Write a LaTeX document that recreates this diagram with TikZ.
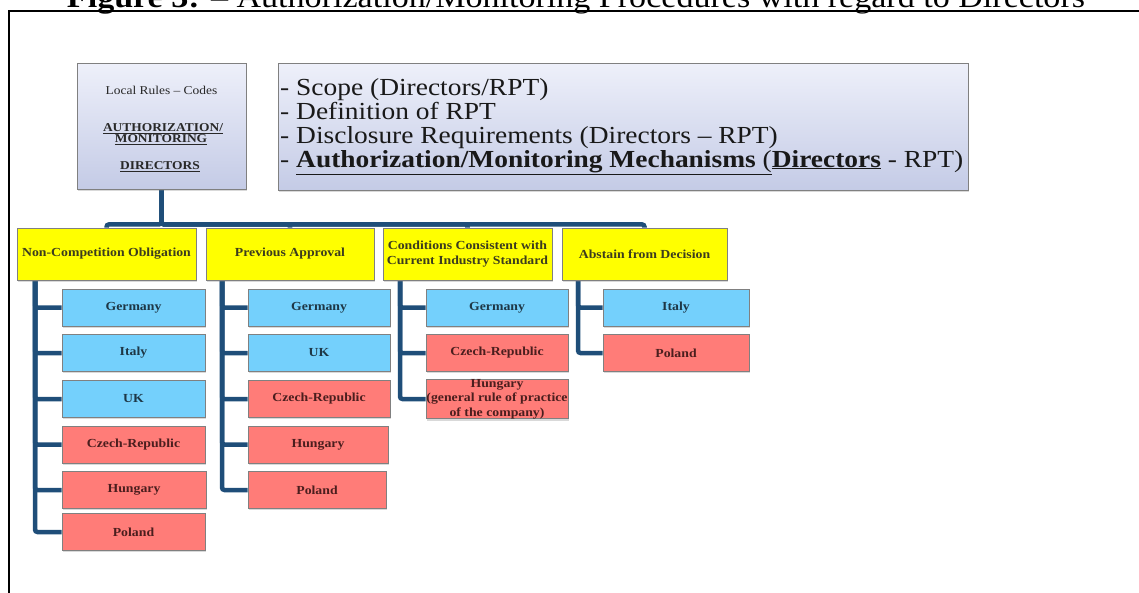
\documentclass[tikz,border=0pt]{standalone}
\usepackage{graphicx}
\usepackage{fontspec}
\setmainfont{Liberation Serif}[FakeStretch=1.12]
\usetikzlibrary{shadows,backgrounds}
\definecolor{connc}{RGB}{31,78,121}
\definecolor{ybox}{RGB}{255,255,0}
\definecolor{bbox}{RGB}{116,208,252}
\definecolor{rbox}{RGB}{255,124,120}
\definecolor{btxt}{RGB}{30,55,70}
\definecolor{rtxt}{RGB}{75,30,30}
\definecolor{ytxt}{RGB}{60,60,30}
\definecolor{gtop}{RGB}{238,240,250}
\definecolor{gbot}{RGB}{196,203,230}
\definecolor{bordc}{RGB}{128,128,128}
\definecolor{darktxt}{RGB}{40,40,40}
\tikzset{
  box/.style={draw=bordc, line width=0.8pt, inner sep=1pt,
    drop shadow={shadow xshift=1.2pt, shadow yshift=-1.8pt, opacity=0.3}},
  topbox/.style={box, top color=gtop, bottom color=gbot},
  cat/.style={box, fill=ybox, minimum height=52pt, text=ytxt, align=center,
    font=\fontsize{12.3}{14.5}\selectfont\bfseries},
  cbox/.style={box, minimum height=37pt, align=center,
    font=\fontsize{12.3}{14.5}\selectfont\bfseries},
  bluebox/.style={cbox, fill=bbox, text=btxt},
  redbox/.style={cbox, fill=rbox, text=rtxt},
  conn/.style={draw=connc, line width=4.5pt, rounded corners=2.5pt},
  lrctext/.style={anchor=base, inner sep=0, text=darktxt, font=\fontsize{12}{12}\selectfont\bfseries},
  sctext/.style={anchor=base west, inner sep=0, text=black!90, font=\fontsize{24.5}{25}\selectfont}
}
\begin{document}
\begin{tikzpicture}[x=1pt,y=-1pt]
\useasboundingbox (0,0) rectangle (1139,592);
\begin{scope}
  \clip (0,0) rectangle (1139,592);
  \node[anchor=base, inner sep=0, font=\fontsize{30}{32}\selectfont] (title) at (576,7)
    {\resizebox{1018pt}{!}{\textbf{Figure 3:} – Authorization/Monitoring Procedures with regard to Directors}};
  \draw[line width=2pt] (9,620) -- (9,11) -- (1160,11);
\end{scope}

% top boxes
\node[topbox, minimum width=169pt, minimum height=126pt] (lrc) at (161.5,126) {};
\node[lrctext, font=\fontsize{12}{12}\selectfont] (l1) at (161.5,94) {Local Rules – Codes};
\node[lrctext] (l2) at (163,131.7) {\underline{AUTHORIZATION/}};
\node[lrctext] (l3) at (161,142.3) {\underline{MONITORING}};
\node[lrctext] (l4) at (160,169.3) {\underline{DIRECTORS}};

\node[topbox, minimum width=690pt, minimum height=127pt] (scb) at (623,126.5) {};
\node[sctext] (s1) at (280,95) {- Scope (Directors/RPT)};
\node[sctext] (s2) at (280,119) {- Definition of RPT};
\node[sctext] (s3) at (280,143) {- Disclosure Requirements (Directors – RPT)};
\node[sctext] (s4) at (280,167) {- \underline{\textbf{Authorization/Monitoring Mechanisms} (}\underline{\textbf{Directors}} - RPT)};

% categories
\node[cat, minimum width=179pt] (ncO) at (106.5,254) {Non-Competition Obligation};
\node[cat, minimum width=168pt] (pA) at (290,254) {Previous Approval};
\node[cat, minimum width=169pt] (ccs) at (467.5,254) {Conditions Consistent with\\Current Industry Standard};
\node[cat, minimum width=165pt] (afd) at (644.5,254) {Abstain from Decision};

% column 1
\node[bluebox, minimum width=143pt] (a1) at (133.5,307.5) {Germany};
\node[bluebox, minimum width=143pt] (a2) at (133.5,353) {Italy};
\node[bluebox, minimum width=143pt] (a3) at (133.5,399) {UK};
\node[redbox, minimum width=143pt] (a4) at (133.5,444.5) {Czech-Republic};
\node[redbox, minimum width=144pt] (a5) at (134,490) {Hungary};
\node[redbox, minimum width=143pt] (a6) at (133.5,532) {Poland};

% column 2
\node[bluebox, minimum width=142pt] (b1) at (319,307.5) {Germany};
\node[bluebox, minimum width=142pt] (b2) at (319,353) {UK};
\node[redbox, minimum width=142pt] (b3) at (319,399) {Czech-Republic};
\node[redbox, minimum width=140pt] (b4) at (318,444.5) {Hungary};
\node[redbox, minimum width=138pt] (b5) at (317,490) {Poland};

% column 3
\node[bluebox, minimum width=142pt] (c1) at (497,307.5) {Germany};
\node[redbox, minimum width=142pt] (c2) at (497,353) {Czech-Republic};
\node[redbox, minimum width=142pt, inner sep=0pt] (c3) at (497,399) {Hungary\\(general rule of practice\\of the company)};

% column 4
\node[bluebox, minimum width=146pt] (d1) at (676,307.5) {Italy};
\node[redbox, minimum width=146pt] (d2) at (676,353) {Poland};

\coordinate (v1) at (35,280);
\coordinate (v2) at (222,280);
\coordinate (v3) at (400,280);
\coordinate (v4) at (578,280);

\begin{pgfonlayer}{background}
  \draw[conn] (lrc.south) -- ++(0,35) -| (ncO.north);
  \draw[conn] (lrc.south) -- ++(0,35) -| (pA.north);
  \draw[conn] (lrc.south) -- ++(0,35) -| (ccs.north);
  \draw[conn] (lrc.south) -- ++(0,35) -| (afd.north);
  \foreach \n in {a1,a2,a3,a4,a5,a6} \draw[conn] (v1) |- (\n.west);
  \foreach \n in {b1,b2,b3,b4,b5} \draw[conn] (v2) |- (\n.west);
  \foreach \n in {c1,c2,c3} \draw[conn] (v3) |- (\n.west);
  \foreach \n in {d1,d2} \draw[conn] (v4) |- (\n.west);
\end{pgfonlayer}
\end{tikzpicture}
\end{document}
